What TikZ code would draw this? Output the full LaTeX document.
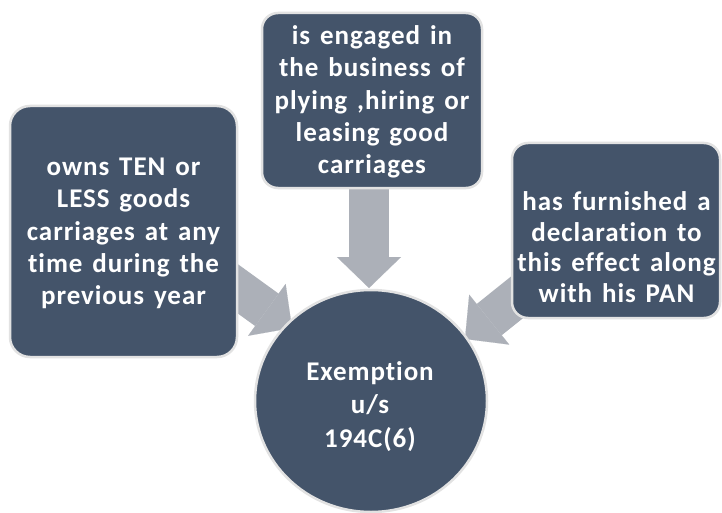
\documentclass[tikz,border=0pt]{standalone}
\usepackage{fontspec}
\setmainfont{Carlito}[LetterSpace=3.5,WordSpace=1.4,Ligatures=NoCommon]
\usetikzlibrary{arrows.meta,shapes.geometric,backgrounds}
\definecolor{slate}{HTML}{44546A}
\definecolor{arrowgray}{RGB}{172,176,184}
\definecolor{rim}{RGB}{226,226,226}
\begin{document}
\begin{tikzpicture}[x=1pt,y=-1pt,
  card/.style={rectangle, rounded corners=#1, fill=slate, draw=rim,
    line width=2.5pt, inner sep=0pt},
  card/.default=16pt,
  hub/.style={ellipse, fill=slate, draw=rim, line width=2.5pt, inner sep=0pt,
    minimum width=232pt, minimum height=222pt},
  lbl/.style={text=white, font=\bfseries\fontsize{27}{32.3}\selectfont,
    align=center, inner sep=0pt},
  feed/.style={arrowgray, line width=40pt,
    -{Triangle[width=64pt,length=31pt,line width=0.1pt]}}]

\useasboundingbox (0,0) rectangle (722,513);

% condition boxes
\node[card=20pt, minimum width=227pt, minimum height=251pt] (own) at (123.5,231.5) {};
\node[card, minimum width=220pt, minimum height=175pt] (biz) at (372,100.5) {};
\node[card, minimum width=208pt, minimum height=175pt] (decl) at (616,230.5) {};

% result
\node[hub] (exempt) at (371,401) {};

% texts
\node[lbl] (ownT) at (123.5,233.5) {owns TEN or\\LESS goods\\carriages at any\\time during the\\previous year};
\node[lbl] (bizT) at (372,102) {is engaged in\\the business of\\plying ,hiring or\\leasing good\\carriages};
\node[lbl, font=\bfseries\fontsize{27}{30.5}\selectfont] (declT) at (616.5,247) {has furnished a\\declaration to\\this effect along\\with his PAN};
\node[lbl, font=\bfseries\fontsize{27}{33.5}\selectfont] (exemptT) at (370,406.5) {Exemption\\u/s\\194C(6)};

% arrow ends
\coordinate (ownTail) at (202.8,263.5);
\coordinate (ownTip) at (292,328);
\coordinate (bizTail) at (369,170);
\coordinate (bizTip) at (369,288);
\coordinate (declTail) at (543,276.5);
\coordinate (declTip) at (465,339);

\begin{scope}[on background layer]
  \fill[white] (0,0) rectangle (722,513);
  \draw[feed] (ownTail) -- (ownTip);
  \draw[feed] (bizTail) -- (bizTip);
  \draw[feed] (declTail) -- (declTip);
\end{scope}
\end{tikzpicture}
\end{document}
